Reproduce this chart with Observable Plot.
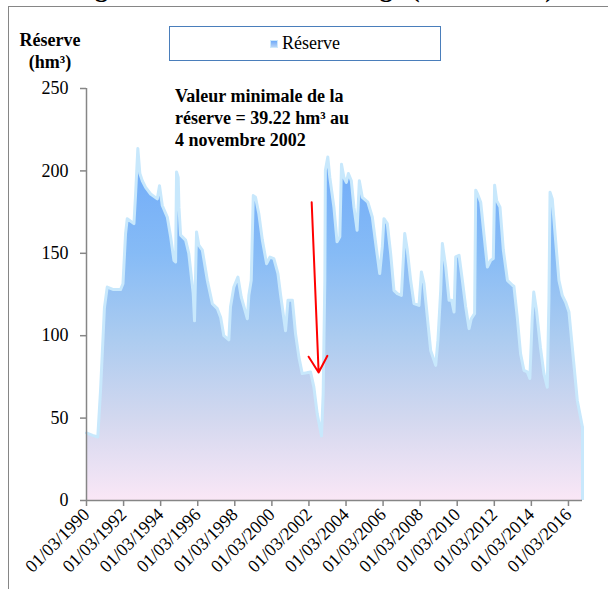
<!DOCTYPE html>
<html>
<head>
<meta charset="utf-8">
<script src="https://cdn.jsdelivr.net/npm/d3@7"></script>
<script src="https://cdn.jsdelivr.net/npm/@observablehq/plot@0.6"></script>
<style>
  body { margin: 0; background: #fff; }
  #wrap { position: relative; width: 608px; height: 589px; overflow: hidden; background: #fff; font-family: "Liberation Serif", "Times New Roman", serif; }
  .frame { position: absolute; left: 8px; top: 6px; width: 640px; height: 640px; border: 1.5px solid #868686; box-sizing: border-box; }
  .title { position: absolute; left: 72px; top: -26px; font-size: 26px; font-weight: bold; line-height: 30px; white-space: nowrap; color: #000; }
  .ytitle { position: absolute; left: 0; width: 100px; top: 29px; text-align: center; font-size: 18px; font-weight: bold; line-height: 22px; color: #000; }
  .legend { position: absolute; left: 169px; top: 26px; width: 272px; height: 35px; border: 1.5px solid #4a7ebb; box-sizing: border-box; display: flex; align-items: center; justify-content: center; font-size: 18px; color: #000; }
  .swatch { display: inline-block; width: 8px; height: 8px; margin-right: 4px; background: linear-gradient(#6eaaf9, #b8d4f6); border: 1px solid #cde9fb; box-sizing: border-box; }
  .annot { position: absolute; left: 175px; top: 85px; font-size: 18px; font-weight: bold; line-height: 22px; white-space: nowrap; color: #000; }
  #chart { position: absolute; left: 0; top: 0; }
  #chart svg [aria-label="x-axis tick"] path, #chart svg [aria-label="y-axis tick"] path, #chart svg .tick line { stroke: #868686; stroke-width: 1.5px; }
</style>
</head>
<body>
<div id="wrap">
  <div id="chart"></div>
  <div class="frame"></div>
  <div class="title">Figure 3 : Réserve du barrage (1990 - 2016)</div>
  <div class="ytitle">Réserve<br>(hm³)</div>
  <div class="legend"><span class="swatch"></span>Réserve</div>
  <div class="annot">Valeur minimale de la<br>réserve = 39.22 hm³ au<br>4 novembre 2002</div>
</div>
<script>
// Decimal years (time) of the read points
const years = [
  1990.16, 1990.49, 1990.77, 1990.92, 1991.13, 1991.28, 1991.62, 1992.00, 1992.13, 1992.27,
  1992.36, 1992.72, 1992.81, 1992.93, 1993.04, 1993.17, 1993.35, 1993.62, 1993.98, 1994.10,
  1994.25, 1994.52, 1994.70, 1994.88, 1994.97, 1995.02, 1995.11, 1995.15, 1995.24, 1995.51,
  1995.68, 1995.92, 1995.99, 1996.10, 1996.22, 1996.41, 1996.68, 1996.95, 1997.22, 1997.40,
  1997.57, 1997.84, 1997.93, 1998.11, 1998.33, 1998.51, 1998.84, 1998.92, 1999.05, 1999.16,
  1999.28, 1999.46, 1999.65, 1999.88, 2000.06, 2000.27, 2000.49, 2000.63, 2000.90, 2001.03,
  2001.27, 2001.44, 2001.62, 2001.80, 2002.04, 2002.25, 2002.43, 2002.61, 2002.84, 2002.93,
  2003.02, 2003.05, 2003.18, 2003.29, 2003.51, 2003.68, 2003.83, 2003.92, 2004.05, 2004.18,
  2004.29, 2004.45, 2004.59, 2004.76, 2004.88, 2005.04, 2005.34, 2005.58, 2005.81, 2005.98,
  2006.12, 2006.21, 2006.39, 2006.57, 2006.75, 2006.93, 2007.15, 2007.33, 2007.47, 2007.65,
  2007.83, 2008.10, 2008.23, 2008.37, 2008.55, 2008.73, 2009.00, 2009.12, 2009.27, 2009.36,
  2009.54, 2009.72, 2009.86, 2009.99, 2010.08, 2010.26, 2010.44, 2010.62, 2010.80, 2010.92,
  2011.10, 2011.16, 2011.26, 2011.43, 2011.61, 2011.79, 2011.97, 2012.11, 2012.18, 2012.29,
  2012.47, 2012.65, 2012.87, 2013.14, 2013.22, 2013.40, 2013.58, 2013.76, 2013.94, 2014.08,
  2014.21, 2014.29, 2014.44, 2014.65, 2014.84, 2015.02, 2015.11, 2015.17, 2015.29, 2015.47,
  2015.65, 2015.83, 2016.01, 2016.19, 2016.37, 2016.64, 2016.92
];
// Reserve (hm³)
const reserve = [
  41, 39.5, 38.5, 67, 117, 129.5, 128, 128, 131.5, 162,
  171, 168, 186, 213.6, 198.4, 194, 190, 186, 183, 191,
  179, 172, 160, 145.7, 144.7, 199.4, 196, 178, 161, 158,
  150, 125.5, 109, 163, 155, 152, 133.6, 119.4, 116.4, 111,
  100, 97.5, 117.4, 129.5, 135.6, 123.5, 110.3, 124.5, 133.6, 185,
  184, 174, 158, 143.7, 147.7, 146.8, 137.7, 125, 103, 121.5,
  121.5, 101, 87, 77, 77.5, 78, 68.8, 52.6, 39.22, 64.8,
  133.6, 200.4, 208.5, 196, 178, 157, 160, 204, 196, 193,
  198.4, 194, 178, 164, 194, 184, 181, 172, 152, 137.7,
  154, 171, 168, 150, 127.5, 125.5, 124.5, 162, 152, 133.6,
  119.5, 118.4, 138.7, 131.6, 111.3, 91, 82, 97, 127.5, 156,
  141.7, 121.5, 121.5, 114.4, 147.8, 148.8, 133.6, 117.4, 104.3, 110.3,
  113.4, 188.3, 186, 181, 161, 141.7, 145.7, 146.8, 191.3, 182,
  178, 152, 133.6, 130.6, 130, 111.3, 89, 79, 78, 74,
  111.3, 126.5, 115.4, 93, 77, 68.8, 121.5, 187, 183, 158,
  133.6, 124.5, 120.4, 114.4, 93, 60.7, 44.5
];
// Tick years (ticks on 1 March every two years)
const tickYears = [1990, 1992, 1994, 1996, 1998, 2000, 2002, 2004, 2006, 2008, 2010, 2012, 2014, 2016];
const yTicks = [0, 50, 100, 150, 200, 250];
// Annotation arrow (decimal year, hm³)
const arrowFrom = [2002.31, 181];
const arrowTo = [2002.685, 77.7];

const dec2date = t => {
  const y = Math.floor(t);
  const a = Date.UTC(y, 0, 1), b = Date.UTC(y + 1, 0, 1);
  return new Date(a + (t - y) * (b - a));
};
const data = years.map((t, i) => ({date: dec2date(t), value: reserve[i]}));
const tickDates = tickYears.map(y => new Date(Date.UTC(y, 2, 1)));
const xStart = new Date(Date.UTC(1990, 2, 1));
const last = data[data.length - 1];
const arrows = [{x1: dec2date(arrowFrom[0]), y1: arrowFrom[1], x2: dec2date(arrowTo[0]), y2: arrowTo[1]}];

const outline = "#c8e8fc";
const axisGrey = "#868686";

const svg = Plot.plot({
  width: 608,
  height: 589,
  marginLeft: 86,
  marginRight: 26,
  marginTop: 88,
  marginBottom: 89,
  style: {fontFamily: "'Liberation Serif', 'Times New Roman', serif", fontSize: "18px", color: "#000", background: "transparent", overflow: "visible"},
  x: {type: "utc", domain: [xStart, last.date], ticks: tickDates, tickFormat: d3.utcFormat("%d/%m/%Y"), tickRotate: -45, tickSize: 6, tickPadding: 5, label: null},
  y: {domain: [0, 250], ticks: yTicks, tickSize: 6, tickPadding: 12, label: null},
  marks: [
    Plot.areaY(data, {x: "date", y: "value", fill: "url(#resGrad)"}),
    Plot.lineY(data, {x: "date", y: "value", stroke: outline, strokeWidth: 3}),
    Plot.ruleX([last], {x: "date", y1: 0, y2: "value", stroke: outline, strokeWidth: 3}),
    Plot.ruleY([0], {stroke: axisGrey, strokeWidth: 1.5}),
    Plot.ruleX([xStart], {stroke: axisGrey, strokeWidth: 1.5}),
    Plot.arrow(arrows, {x1: "x1", y1: "y1", x2: "x2", y2: "y2", stroke: "#ff0000", strokeWidth: 2, headLength: 14, headAngle: 60, bend: 0})
  ]
});

d3.select(svg).insert("defs", ":first-child").html(
  '<linearGradient id="resGrad" x1="0" y1="0" x2="0" y2="1">' +
  '<stop offset="0" stop-color="#6eaaf9"/>' +
  '<stop offset="0.3" stop-color="#86bbf6"/>' +
  '<stop offset="0.53" stop-color="#aacbf0"/>' +
  '<stop offset="0.77" stop-color="#d3d8ef"/>' +
  '<stop offset="1" stop-color="#fae7f6"/>' +
  '</linearGradient>'
);

document.getElementById("chart").appendChild(svg);
</script>
</body>
</html>
